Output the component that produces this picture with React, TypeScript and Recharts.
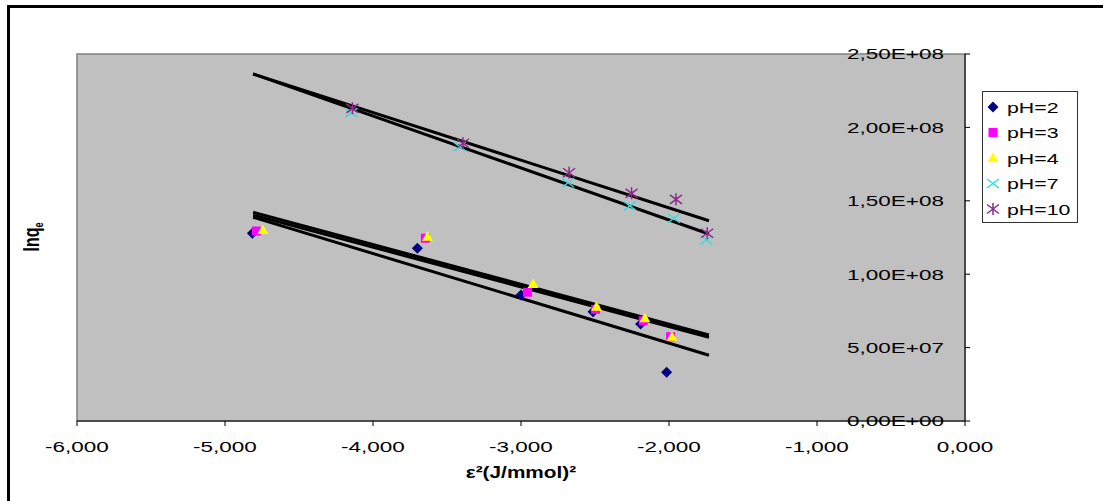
import React from "react";
import {
  ComposedChart,
  Scatter,
  Line,
  XAxis,
  YAxis,
  CartesianGrid,
  ReferenceArea,
  Legend,
  Customized,
} from "recharts";

// axis ticks
const xTicks = [-6, -5, -4, -3, -2, -1, 0];
const yTicks = [0, 5e7, 1e8, 1.5e8, 2e8, 2.5e8];

// measured points, epsilon^2 vs lnqe
const epsPH2 = [-4.815, -3.7, -3.0, -2.513, -2.192, -2.016];
const lnqPH2 = [1.279e8, 1.176e8, 0.858e8, 0.745e8, 0.661e8, 0.332e8];

const epsPH3 = [-4.788, -3.646, -2.956, -2.496, -2.174, -1.989];
const lnqPH3 = [1.294e8, 1.245e8, 0.877e8, 0.761e8, 0.683e8, 0.574e8];

const epsPH4 = [-4.744, -3.632, -2.918, -2.49, -2.163, -1.98];
const lnqPH4 = [1.301e8, 1.255e8, 0.933e8, 0.779e8, 0.7e8, 0.574e8];

const epsPH7 = [-4.146, -3.414, -2.682, -2.264, -1.967, -1.746];
const lnqPH7 = [2.1e8, 1.869e8, 1.623e8, 1.465e8, 1.381e8, 1.233e8];

const epsPH10 = [-4.139, -3.392, -2.675, -2.253, -1.953, -1.742];
const lnqPH10 = [2.13e8, 1.892e8, 1.691e8, 1.551e8, 1.51e8, 1.279e8];

// linear trendlines (start / end values as drawn)
const trendX = [-4.81, -1.73];
const trendPH2 = [1.388e8, 0.448e8];
const trendPH3 = [1.403e8, 0.57e8];
const trendPH4 = [1.422e8, 0.586e8];
const trendPH7 = [2.364e8, 1.274e8];
const trendPH10 = [2.364e8, 1.364e8];

const FONT = "Arial, 'Liberation Sans', sans-serif";
const STRETCH = 1.5;

const toPoints = (xs: number[], ys: number[]) =>
  xs.map((x, i) => ({ x, y: ys[i] }));

type Kind = "diamond" | "square" | "triangle" | "x" | "star";

const Marker = ({ kind, cx, cy, color }: { kind: Kind; cx: number; cy: number; color: string }) => {
  if (kind === "diamond") {
    return (
      <polygon
        points={`${cx},${cy - 5.5} ${cx + 5.5},${cy} ${cx},${cy + 5.5} ${cx - 5.5},${cy}`}
        fill={color}
      />
    );
  }
  if (kind === "square") {
    return <rect x={cx - 4.5} y={cy - 4.5} width={9} height={9} fill={color} />;
  }
  if (kind === "triangle") {
    return (
      <polygon
        points={`${cx},${cy - 5.5} ${cx + 5.5},${cy + 4} ${cx - 5.5},${cy + 4}`}
        fill={color}
      />
    );
  }
  const cross = `M${cx - 6},${cy - 4.5}L${cx + 6},${cy + 4.5}M${cx - 6},${cy + 4.5}L${cx + 6},${cy - 4.5}`;
  const d = kind === "star" ? `${cross}M${cx},${cy - 6}L${cx},${cy + 6}` : cross;
  return <path d={d} stroke={color} strokeWidth={1.5} fill="none" />;
};

const series = [
  { name: "pH=2", color: "#000080", kind: "diamond" as Kind, points: toPoints(epsPH2, lnqPH2), trend: toPoints(trendX, trendPH2) },
  { name: "pH=3", color: "#FF00FF", kind: "square" as Kind, points: toPoints(epsPH3, lnqPH3), trend: toPoints(trendX, trendPH3) },
  { name: "pH=4", color: "#FFFF00", kind: "triangle" as Kind, points: toPoints(epsPH4, lnqPH4), trend: toPoints(trendX, trendPH4) },
  { name: "pH=7", color: "#33DDDD", kind: "x" as Kind, points: toPoints(epsPH7, lnqPH7), trend: toPoints(trendX, trendPH7) },
  { name: "pH=10", color: "#8B2A8B", kind: "star" as Kind, points: toPoints(epsPH10, lnqPH10), trend: toPoints(trendX, trendPH10) },
];

const fmtX = (v: number) => v.toFixed(3).replace(".", ",");

const fmtY = (v: number) => {
  if (v === 0) return "0,00E+00";
  const exp = Math.floor(Math.log10(Math.abs(v)));
  const mant = v / Math.pow(10, exp);
  return `${mant.toFixed(2).replace(".", ",")}E+${String(exp).padStart(2, "0")}`;
};

const XTick = (props: any) => {
  const { x, y, payload } = props;
  return (
    <text
      transform={`translate(${x},${y + 24}) scale(${STRETCH},1)`}
      textAnchor="middle"
      fontSize={15}
      fontFamily={FONT}
      fill="#000"
    >
      {fmtX(payload.value)}
    </text>
  );
};

// y axis sits on the right; labels inside the plot, tick marks outside
const YTick = (props: any) => {
  const { x, y, payload } = props;
  return (
    <g>
      <line x1={x + 21} x2={x + 26} y1={y} y2={y} stroke="#000" />
      <text
        transform={`translate(${x},${y + 5.4}) scale(${STRETCH},1)`}
        textAnchor="end"
        fontSize={15}
        fontFamily={FONT}
        fill="#000"
      >
        {fmtY(payload.value)}
      </text>
    </g>
  );
};

const AxisTitles = () => (
  <g fontFamily={FONT} fill="#000" fontWeight="bold">
    <text
      transform="translate(39,237) scale(1.35,1) rotate(-90)"
      textAnchor="middle"
      fontSize={16}
    >
      lnq
      <tspan fontSize={9} dy={3}>e</tspan>
    </text>
    <text transform={`translate(521,478) scale(1.3,1)`} textAnchor="middle" fontSize={16}>
      ε²(J/mmol)²
    </text>
  </g>
);

const LegendBox = () => (
  <svg width={96} height={132} style={{ display: "block" }}>
    <rect x={0.5} y={0.5} width={95} height={131} fill="#fff" stroke="#333" />
    {series.map((s, i) => {
      const cy = 16 + i * 25.5;
      return (
        <g key={s.name}>
          <Marker kind={s.kind} cx={11} cy={cy} color={s.color} />
          <text
            transform={`translate(25,${cy + 5.5}) scale(1.42,1)`}
            fontSize={15}
            fontFamily={FONT}
            fill="#000"
          >
            {s.name}
          </text>
        </g>
      );
    })}
  </svg>
);

export default function App() {
  return (
    <div
      style={{
        position: "absolute",
        left: 0,
        top: 0,
        width: 1103,
        height: 501,
        overflow: "hidden",
        background: "#fff",
      }}
    >
      <div
        style={{
          position: "absolute",
          left: 7,
          top: 5,
          width: 1120,
          height: 520,
          border: "3px solid #000",
        }}
      />
      <div style={{ position: "absolute", left: 0, top: 0 }}>
        <ComposedChart
          width={1103}
          height={501}
          margin={{ top: 54, right: 138, bottom: 50, left: 77 }}
        >
          <CartesianGrid horizontal={false} vertical={false} fill="#C0C0C0" fillOpacity={1} />
          <ReferenceArea
            x1={-6}
            x2={0}
            y1={0}
            y2={2.5e8}
            fill="none"
            stroke="#808080"
            strokeWidth={1.5}
          />
          <XAxis
            type="number"
            dataKey="x"
            domain={[-6, 0]}
            ticks={xTicks}
            allowDataOverflow
            stroke="#000"
            tickSize={5}
            tickMargin={2}
            tick={<XTick />}
          />
          <YAxis
            type="number"
            dataKey="y"
            orientation="right"
            mirror
            domain={[0, 2.5e8]}
            ticks={yTicks}
            allowDataOverflow
            stroke="#000"
            tickLine={false}
            tickSize={5}
            tickMargin={16}
            tick={<YTick />}
          />
          {series.map((s) => (
            <Scatter
              key={s.name}
              name={s.name}
              data={s.points}
              fill={s.color}
              isAnimationActive={false}
              shape={(p: any) => <Marker kind={s.kind} cx={p.cx} cy={p.cy} color={s.color} />}
            />
          ))}
          {series.map((s) => (
            <Line
              key={`trend-${s.name}`}
              data={s.trend}
              dataKey="y"
              type="linear"
              stroke="#000"
              strokeWidth={3}
              dot={false}
              activeDot={false}
              legendType="none"
              isAnimationActive={false}
            />
          ))}
          <Legend
            layout="vertical"
            align="center"
            verticalAlign="middle"
            wrapperStyle={{ left: 982, top: 91, width: 96, height: 132 }}
            content={() => <LegendBox />}
          />
          <Customized component={AxisTitles} />
        </ComposedChart>
      </div>
    </div>
  );
}
